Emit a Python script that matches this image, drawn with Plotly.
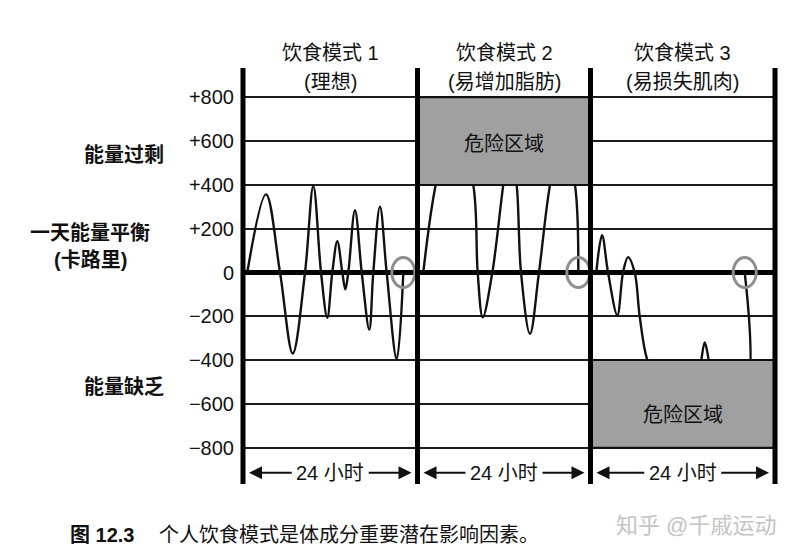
import plotly.graph_objects as go

# ---------------- data ----------------
panel_titles = ["饮食模式 1", "饮食模式 2", "饮食模式 3"]
panel_subtitles = ["(理想)", "(易增加脂肪)", "(易损失肌肉)"]
span_label = "24 小时"

y_tick_vals = [800, 600, 400, 200, 0, -200, -400, -600, -800]
y_tick_text = ["+800", "+600", "+400", "+200", "0", "−200", "−400", "−600", "−800"]

# pattern 1 (ideal): hours within the 24 h day, kcal balance
p1_hours = [0.59, 3.16, 5.09, 6.84, 8.53, 9.67, 10.73, 11.59, 12.28, 12.97, 13.66,
            14.07, 14.48, 15.40, 16.33, 17.37, 17.92, 18.84, 19.76, 21.14, 22.05]
p1_kcal = [0, 357, 0, -370, 0, 395, 0, -207, 0, 143, 0,
           -77, 0, 284, 0, -261, 0, 301, 0, -396, 0]

# pattern 2 (fat gain) - peaks go into the danger zone
p2_hours = [0.80, 2.52, 5.06, 7.74, 8.35, 9.05, 10.38, 11.90, 12.83, 13.76, 14.36,
            15.61, 16.85, 18.38, 20.05, 21.85, 22.31]
p2_kcal = [0, 400, 720, 400, 0, -205, 0, 400, 600, 400, 0,
           -280, 0, 400, 650, 400, 0]

# pattern 3 (muscle loss) - long stretches in the deficit danger zone
p3_hours = [0.75, 1.50, 2.28, 3.49, 4.23, 4.88, 5.75, 6.40, 7.39, 9.5, 13.9,
            14.41, 14.86, 15.38, 16.0, 19.9, 20.06]
p3_kcal = [0, 170, 0, -195, 0, 70, 0, -200, -400, -560, -520,
           -400, -320, -400, -540, -560, 0]

danger_label = "危险区域"
danger_zones = [None, (400, 800), (-800, -400)]
danger_label_y = [None, 585, -650]

# (text, centre x on page, y in kcal)
left_labels = [("<b>能量过剩</b>", 123.5, 536), ("<b>一天能量平衡</b>", 90, 180),
               ("<b>(卡路里)</b>", 90, 57), ("<b>能量缺乏</b>", 123.5, -523)]

caption_bold = "<b>图 12.3</b>"
caption_text = "个人饮食模式是体成分重要潜在影响因素。"
watermark = "知乎 @千戚运动"

# ---------------- layout geometry ----------------
OFF = 8                      # page body margin of the html page
W, H = 799 - OFF, 558 - OFF
ML, MR, MT, MB = 243 - OFF, 24, 68 - OFF, 74
border_px = [243 - OFF, 417.5 - OFF, 590.5 - OFF, 775 - OFF]
plot_w = W - ML - MR
plot_h = H - MT - MB
domains = [(b - ML) / plot_w for b in border_px]
panel_px = [border_px[i + 1] - border_px[i] for i in range(3)]
Y_RANGE = [-966, 934]

FONT = "Liberation Sans, Arial, Noto Sans CJK SC, sans-serif"


def page2paper(px, py):
    return (px - OFF - ML) / plot_w, 1 - (py - OFF - MT) / plot_h


series = [(p1_hours, p1_kcal), (p2_hours, p2_kcal), (p3_hours, p3_kcal)]
xnames = ["x", "x2", "x3"]

fig = go.Figure()
for i, (hx, ky) in enumerate(series):
    fig.add_trace(go.Scatter(
        x=hx, y=ky, mode="lines", xaxis=xnames[i], yaxis="y",
        line=dict(color="#111111", width=2.4, shape="spline", smoothing=1.0),
        hoverinfo="skip", showlegend=False))

layout = dict(
    width=W, height=H,
    margin=dict(l=ML, r=MR, t=MT, b=MB),
    paper_bgcolor="white", plot_bgcolor="white",
    font=dict(family=FONT, color="#111111", size=20),
    showlegend=False,
    yaxis=dict(range=Y_RANGE, tickvals=y_tick_vals, ticktext=y_tick_text,
               showgrid=True, gridcolor="#1c1c1c", gridwidth=2,
               zeroline=True, zerolinecolor="#000000", zerolinewidth=5,
               showline=False, ticks="", ticklabelstandoff=8,
               tickfont=dict(size=20, family=FONT, color="#111111"),
               fixedrange=True),
)
for i in range(3):
    key = "xaxis" if i == 0 else f"xaxis{i + 1}"
    layout[key] = dict(domain=[domains[i], domains[i + 1]], range=[0, 24],
                       anchor="y", showgrid=False, zeroline=False,
                       showticklabels=False, ticks="", showline=False,
                       fixedrange=True)
fig.update_layout(**layout)

shapes = []
annotations = []

# danger zones (drawn above the curves so peaks are hidden)
for i, zone in enumerate(danger_zones):
    if zone is None:
        continue
    shapes.append(dict(type="rect", xref=xnames[i], yref="y", x0=0, x1=24,
                       y0=zone[0], y1=zone[1], fillcolor="#a0a0a0",
                       line=dict(color="#111111", width=2), layer="above"))
    annotations.append(dict(xref=xnames[i], yref="y", x=12, y=danger_label_y[i],
                            text=danger_label, showarrow=False,
                            xanchor="center", yanchor="middle",
                            font=dict(size=20, color="#111111")))

# end-of-day circles
for i, (hx, ky) in enumerate(series):
    shapes.append(dict(type="circle", xref=xnames[i], yref="y",
                       xsizemode="pixel", ysizemode="pixel",
                       xanchor=hx[-1], yanchor=ky[-1],
                       x0=-11.5, x1=11.5, y0=-15, y1=15,
                       line=dict(color="#8e8e8e", width=3), layer="above"))

# thick panel borders
for d in domains:
    shapes.append(dict(type="line", xref="paper", yref="paper", x0=d, x1=d,
                       y0=0, y1=1, line=dict(color="#000000", width=5),
                       layer="above"))

# titles and "24 hours" spans
for i in range(3):
    xr = xnames[i]
    xc = (domains[i] + domains[i + 1]) / 2
    annotations.append(dict(xref="paper", yref="paper", x=xc,
                            y=page2paper(0, 53)[1], text=panel_titles[i],
                            xanchor="center", yanchor="middle",
                            showarrow=False, font=dict(size=20)))
    annotations.append(dict(xref="paper", yref="paper", x=xc,
                            y=page2paper(0, 82)[1], text=panel_subtitles[i],
                            xanchor="center", yanchor="middle",
                            showarrow=False, font=dict(size=20)))
    hpp = 24 / panel_px[i]
    ys = -915
    annotations.append(dict(xref=xr, yref="y", x=12, y=ys, text=span_label,
                            xanchor="center", yanchor="middle",
                            showarrow=False, font=dict(size=20)))
    for head, tail in [(6 * hpp, 12 - 37 * hpp), (24 - 6 * hpp, 12 + 37 * hpp)]:
        annotations.append(dict(xref=xr, yref="y", x=head, y=ys, ax=tail, ay=ys,
                                axref=xr, ayref="y", text="", showarrow=True,
                                arrowhead=2, arrowsize=1.3, arrowwidth=2,
                                arrowcolor="#111111", standoff=0, startstandoff=0))

# left side labels
for txt, cx, cy in left_labels:
    annotations.append(dict(xref="paper", yref="y", x=page2paper(cx, 0)[0], y=cy,
                            text=txt, showarrow=False, xanchor="center",
                            yanchor="middle",
                            font=dict(size=20, color="#111111")))

# caption and watermark
cx, cy = page2paper(68, 535)
annotations.append(dict(xref="paper", yref="paper", x=cx, y=cy, text=caption_bold,
                        showarrow=False, xanchor="left", yanchor="middle",
                        font=dict(size=20)))
cx, cy = page2paper(157, 535)
annotations.append(dict(xref="paper", yref="paper", x=cx, y=cy, text=caption_text,
                        showarrow=False, xanchor="left", yanchor="middle",
                        font=dict(size=20)))
cx, cy = page2paper(778, 525)
annotations.append(dict(xref="paper", yref="paper", x=cx, y=cy, text=watermark,
                        showarrow=False, xanchor="right", yanchor="middle",
                        font=dict(size=22, color="#c4c4c4")))

fig.update_layout(shapes=shapes, annotations=annotations)
fig.write_html("out.html")
